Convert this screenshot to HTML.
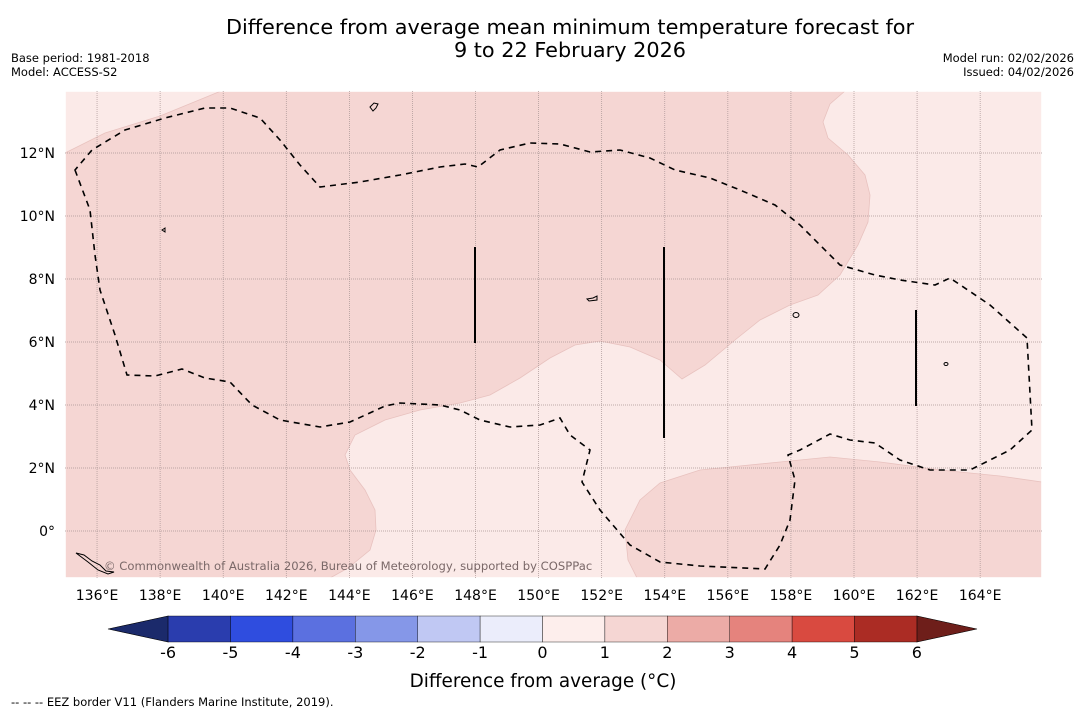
<!DOCTYPE html>
<html><head><meta charset="utf-8"><style>
body{margin:0;background:#fff;width:1085px;height:713px;overflow:hidden;font-family:"Liberation Sans","DejaVu Sans",sans-serif}
svg{position:absolute;left:0;top:0}
</style></head><body>
<svg id="s" width="1085" height="713" viewBox="0 0 1085 713">
<text x="570" y="34" font-size="20.8" text-anchor="middle" font-family="DejaVu Sans, sans-serif">Difference from average mean minimum temperature forecast for</text>
<text x="570" y="57" font-size="20.8" text-anchor="middle" font-family="DejaVu Sans, sans-serif">9 to 22 February 2026</text>
<text x="11" y="62" font-size="11.5" font-family="DejaVu Sans, sans-serif">Base period: 1981-2018</text>
<text x="11" y="76" font-size="11.5" font-family="DejaVu Sans, sans-serif">Model: ACCESS-S2</text>
<text x="1074" y="62" font-size="11.5" text-anchor="end" font-family="DejaVu Sans, sans-serif">Model run: 02/02/2026</text>
<text x="1074" y="76" font-size="11.5" text-anchor="end" font-family="DejaVu Sans, sans-serif">Issued: 04/02/2026</text>
<g id="map">
<rect x="65" y="91" width="977" height="487" fill="#f5d6d3"/>
<polygon fill="#fbeae8" stroke="#e8c2bf" stroke-width="0.8" points="65,153 105,133 160,116 221,91 65,91"/>
<polygon fill="#fbeae8" stroke="#e8c2bf" stroke-width="0.8" points="845,91 830,104 823,122 828,138 848,155 865,175 870,195 868,222 858,245 840,275 818,295 790,305 760,320 735,340 705,365 682,379 660,360 630,347 600,341 575,345 550,358 520,378 490,395 460,403 420,410 385,420 355,435 345,455 350,470 365,490 375,510 376,530 370,550 348,568 330,578 637,578 628,560 625,530 640,500 660,483 700,470 780,462 830,457 880,462 940,470 1000,476 1042,482 1042,91"/>
<rect x="65" y="91" width="977" height="487" fill="none" stroke="#fff" stroke-width="1.6"/>
<g id="grid"></g>
<path fill="none" stroke="#000" stroke-width="1.6" stroke-dasharray="6,5" d="M75,170 L90,210 95,255 100,290 115,335 127,375 155,376 182,369 205,378 230,382 252,405 280,420 320,427 350,422 385,406 400,403 440,405 460,410 480,420 510,427 540,425 560,418 570,435 590,450 582,482 600,510 630,545 660,562 700,566 765,569 780,545 790,520 795,480 788,455 800,450 830,434 850,440 875,443 900,460 930,470 970,470 1010,450 1032,430 1027,338 990,305 950,278 935,285 900,280 875,275 840,265 820,245 800,225 775,205 740,190 710,178 675,170 650,158 620,150 590,152 560,144 530,143 500,150 478,167 465,164 440,167 400,175 360,182 320,187 300,165 280,140 260,118 230,108 205,108 165,118 125,130 92,150 Z"/>
<line x1="475" y1="247" x2="475" y2="343" stroke="#000" stroke-width="2"/>
<line x1="664" y1="247" x2="664" y2="438" stroke="#000" stroke-width="2"/>
<line x1="916" y1="310" x2="916" y2="406" stroke="#000" stroke-width="2"/>
<g fill="none" stroke="#000" stroke-width="1">
<path d="M370,107 l4,-4 4,1 -2,4 -3,3 z"/><path d="M587,299 l6,-1 4,-2 0,4 -8,1 z"/><ellipse cx="796" cy="315" rx="3" ry="2.5"/><ellipse cx="946" cy="364" rx="2" ry="1.5"/><path d="M76,553 l8,2 8,6 8,4 6,6 8,1 -6,2 -10,-4 -10,-8 z"/><path d="M162,230 l3,-2 0,4z"/>
</g>
<text x="104" y="570" font-size="11.6" fill="#7a6868" font-family="DejaVu Sans, sans-serif">© Commonwealth of Australia 2026, Bureau of Meteorology, supported by COSPPac</text>
</g>
<g id="axes"></g>
<g id="cbar"></g>
<text x="543" y="687" font-size="18.4" text-anchor="middle" font-family="DejaVu Sans, sans-serif">Difference from average (°C)</text>
<text x="11" y="706" font-size="11.5" font-family="DejaVu Sans, sans-serif">--  --  -- EEZ border V11 (Flanders Marine Institute, 2019).</text>
</svg>
<script>
const lonTicks=[136,138,140,142,144,146,148,150,152,154,156,158,160,162,164];
const latTicks=[0,2,4,6,8,10,12];
const cbTicks=[-6,-5,-4,-3,-2,-1,0,1,2,3,4,5,6];
const cbColors=["#2a3dae","#2f4ddf","#5b70e0","#8597e8","#c0c8f3","#ebedfb","#fdeeec","#f5d6d3","#ecaba6","#e5837d","#d94a40","#ab2c24"];
const NS="http://www.w3.org/2000/svg";
const X=lon=>65.5+(lon-135)*31.54;
const Y=lat=>531-lat*31.5;
const CB=v=>542.5+v*62.4;
function mk(t,a,p){const e=document.createElementNS(NS,t);for(const k in a)e.setAttribute(k,a[k]);p.appendChild(e);return e;}
const grid=document.getElementById('grid'),axes=document.getElementById('axes'),cb=document.getElementById('cbar');
lonTicks.forEach(l=>{
 const g=mk('line',{x1:X(l),x2:X(l),y1:91,y2:578,stroke:'#a89494','stroke-width':0.7,'stroke-dasharray':'1,1'},grid);
 
 
 const t=mk('text',{x:X(l),y:600,'font-size':14,'text-anchor':'middle','font-family':'DejaVu Sans, sans-serif'},axes);
 t.textContent=l+'°E';
 
 
});
latTicks.forEach(l=>{
 const g=mk('line',{x1:65,x2:1042,y1:Y(l),y2:Y(l),stroke:'#a89494','stroke-width':0.7,'stroke-dasharray':'1,1'},grid);
 
 
 const t=mk('text',{x:55,y:Y(l)+5,'font-size':14,'text-anchor':'end','font-family':'DejaVu Sans, sans-serif'},axes);
 t.textContent=l===0?'0°':l+'°N';
 
 
});
const lo=mk('polygon',{points:`108,629 ${CB(-6)},616 ${CB(-6)},642`,fill:'#1b2a6b',stroke:'#000','stroke-width':0.6},cb);


const hi=mk('polygon',{points:`977,629 ${CB(6)},616 ${CB(6)},642`,fill:'#6e1e1a',stroke:'#000','stroke-width':0.6},cb);


cbColors.forEach((c,i)=>{
 const r=mk('rect',{x:CB(cbTicks[i]),y:616,width:CB(cbTicks[i+1])-CB(cbTicks[i]),height:26,fill:c,stroke:'#000','stroke-width':0.4},cb);
 
 
});
cbTicks.forEach(v=>{
 const t=mk('text',{x:CB(v),y:658,'font-size':16,'text-anchor':'middle','font-family':'DejaVu Sans, sans-serif'},cb);
 t.textContent=v;
 
 
});
</script>
</body></html>
